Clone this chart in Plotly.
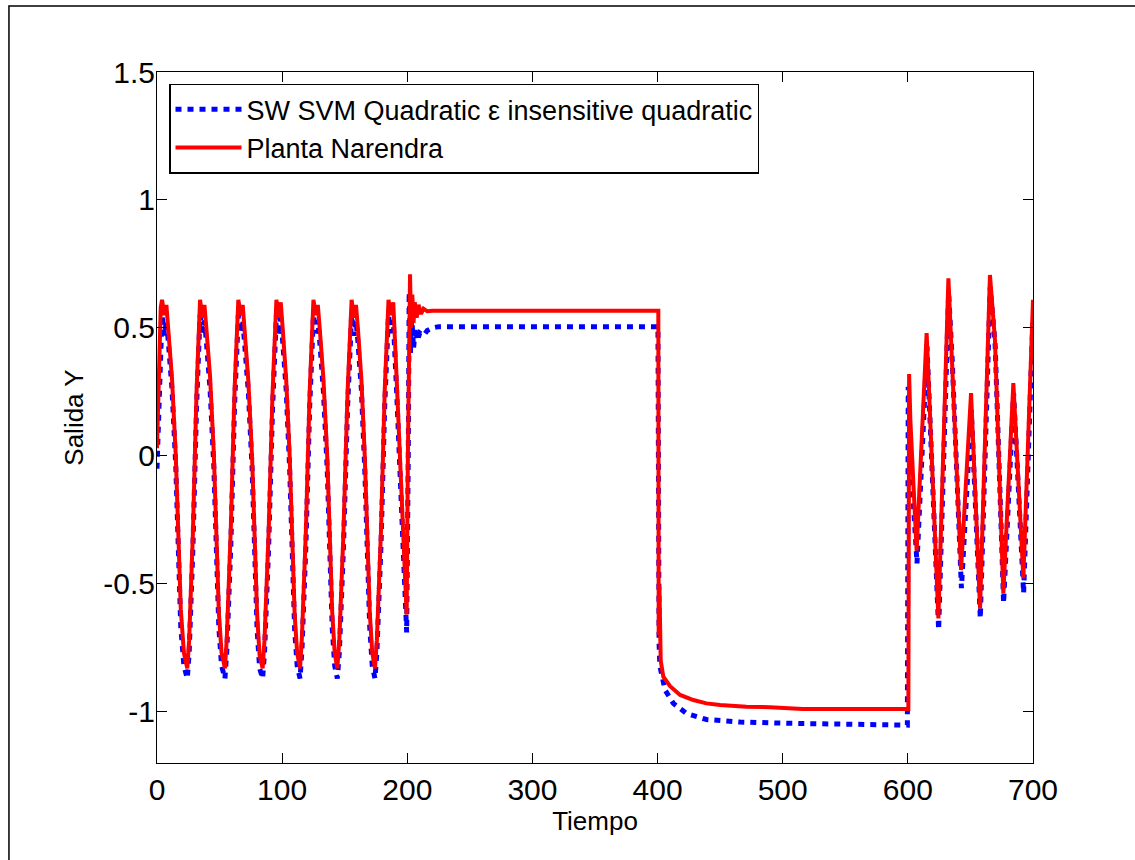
import plotly.graph_objects as go

# Tiempo y salida (tramo oscilante 0-200)
t_osc = [0, 1.5, 3, 4, 6, 7.5, 9, 12, 15, 17, 19, 21.5, 24.2,
         25.7, 28.7, 31.6, 34.4, 36.4, 37.9, 39.4, 42.4, 45.4, 47.4, 49.4, 51.6, 54.3,
         55.8, 59, 62, 65, 67, 68.5, 70, 73, 76, 78, 80, 82, 84.4,
         85.9, 89.2, 92.3, 95.4, 97.4, 98.9, 100.4, 103.2, 106, 108, 110, 112, 114.3,
         115.8, 119, 122, 125, 127, 128.5, 130, 133, 136, 138, 140, 142, 144.1,
         145.7, 149, 152.3, 155.5, 157.5, 159, 160.5, 163.3, 166, 168, 170, 172, 174.2,
         175.7, 179, 182, 185, 187, 188.8, 191.5, 194.5, 197.5, 199.5]
red_osc = [0.03, 0.38, 0.58, 0.61, 0.55, 0.59, 0.50, 0.30, 0.00, -0.30, -0.60, -0.77, -0.83,
           -0.72, -0.30, 0.25, 0.61, 0.54, 0.59, 0.50, 0.31, 0.01, -0.31, -0.61, -0.77, -0.83,
           -0.71, -0.28, 0.26, 0.61, 0.55, 0.59, 0.49, 0.29, -0.01, -0.32, -0.62, -0.78, -0.83,
           -0.72, -0.30, 0.24, 0.61, 0.54, 0.60, 0.50, 0.30, 0.00, -0.31, -0.62, -0.77, -0.83,
           -0.71, -0.29, 0.25, 0.61, 0.55, 0.59, 0.50, 0.30, 0.00, -0.31, -0.61, -0.77, -0.83,
           -0.72, -0.30, 0.25, 0.61, 0.54, 0.59, 0.50, 0.30, 0.00, -0.31, -0.61, -0.77, -0.83,
           -0.72, -0.29, 0.26, 0.61, 0.55, 0.60, 0.30, -0.05, -0.42, -0.62]
blue_osc = [-0.05, 0.25, 0.47, 0.55, 0.47, 0.53, 0.45, 0.26, -0.04, -0.36, -0.67, -0.82, -0.87,
            -0.77, -0.36, 0.19, 0.55, 0.47, 0.53, 0.45, 0.26, -0.04, -0.36, -0.67, -0.82, -0.87,
            -0.76, -0.35, 0.20, 0.55, 0.48, 0.53, 0.44, 0.25, -0.05, -0.37, -0.68, -0.83, -0.87,
            -0.77, -0.36, 0.18, 0.55, 0.47, 0.54, 0.45, 0.26, -0.05, -0.36, -0.68, -0.82, -0.87,
            -0.76, -0.35, 0.19, 0.55, 0.48, 0.53, 0.45, 0.25, -0.05, -0.36, -0.67, -0.82, -0.87,
            -0.77, -0.36, 0.19, 0.55, 0.47, 0.53, 0.45, 0.26, -0.05, -0.37, -0.67, -0.82, -0.87,
            -0.77, -0.35, 0.20, 0.55, 0.48, 0.53, 0.25, -0.10, -0.48, -0.69]

# tramo 200-600
red_hold_t = [200.5, 201.5, 202.2, 203, 204, 205, 206, 207.5, 209, 211, 213, 216, 220,
              400.6, 400.9, 401.5, 402.5, 404.6, 410, 418, 428.6, 439, 450, 471, 490, 516, 600.4]
red_hold = [0.0, 0.52, 0.71, 0.50, 0.63, 0.52, 0.60, 0.54, 0.59, 0.555, 0.575, 0.565, 0.567,
            0.567, -0.70, -0.51, -0.80, -0.863, -0.90, -0.934, -0.954, -0.967, -0.973, -0.98, -0.982, -0.989, -0.989]
blue_hold_t = [200.8, 201.5, 202.5, 203.5, 205, 206.5, 208, 210, 213, 216, 220, 225,
               400.3, 400.6, 401.2, 401.8, 406, 412.6, 423, 439, 466, 506, 546, 559, 599.6]
blue_hold = [0.0, 0.64, 0.40, 0.55, 0.42, 0.50, 0.45, 0.48, 0.47, 0.49, 0.50, 0.505,
             0.505, -0.67, -0.73, -0.82, -0.915, -0.967, -1.006, -1.03, -1.04, -1.045, -1.048, -1.052, -1.052]

# tramo 600-700
red_tail_t = [601, 602, 607, 615, 624.4, 632.4, 634.5, 642.5, 650.5, 657.7,
              665.6, 669.6, 676.3, 684.3, 692.3, 700]
red_tail = [0.32, 0.14, -0.37, 0.48, -0.635, 0.694, 0.45, -0.446, 0.245, -0.596,
            0.707, 0.453, -0.537, 0.284, -0.478, 0.61]
blue_tail_t = [600.3, 601.5, 607.3, 615.3, 624.6, 632.6, 635.5, 642.8, 650.7, 657.9,
               665.8, 669.8, 676.5, 684.5, 692.5, 700]
blue_tail = [0.27, 0.05, -0.42, 0.427, -0.68, 0.635, 0.37, -0.517, 0.18, -0.635,
             0.66, 0.43, -0.576, 0.245, -0.537, 0.544]

y_ticks = [-1, -0.5, 0, 0.5, 1, 1.5]
y_labels = ["-1", "-0.5", "0", "0.5", "1", "1.5"]
x_ticks = [0, 100, 200, 300, 400, 500, 600, 700]

FONT = "Liberation Sans, Arial, Helvetica, sans-serif"

fig = go.Figure()
fig.add_trace(go.Scatter(
    x=t_osc + blue_hold_t + blue_tail_t,
    y=blue_osc + blue_hold + blue_tail,
    mode="lines", name="SW SVM Quadratic \u03b5 insensitive quadratic",
    line=dict(color="#0000ff", width=5, dash="6px,6px")))
fig.add_trace(go.Scatter(
    x=t_osc + red_hold_t + red_tail_t,
    y=red_osc + red_hold + red_tail,
    mode="lines", name="Planta Narendra",
    line=dict(color="#ff0000", width=4)))

axis_common = dict(showline=True, linecolor="black", linewidth=1, mirror="ticks",
                   ticks="inside", ticklen=10, tickcolor="black", showgrid=False,
                   zeroline=False, tickfont=dict(size=30, color="black"))
fig.update_xaxes(range=[0, 700], tickvals=x_ticks,
                 title=dict(text="Tiempo", font=dict(size=26), standoff=6),
                 **axis_common)
fig.update_yaxes(range=[-1.2, 1.5], tickvals=y_ticks, ticktext=y_labels,
                 ticklabelstandoff=-5,
                 title=dict(text="Salida Y", font=dict(size=26), standoff=12),
                 **axis_common)

fig.update_layout(
    width=1135, height=860,
    margin=dict(l=157, r=102, t=72, b=97),
    paper_bgcolor="white", plot_bgcolor="white",
    font=dict(family=FONT, color="black"),
    legend=dict(x=0.0137, y=0.983, xanchor="left", yanchor="top",
                bgcolor="white", bordercolor="black", borderwidth=1.5,
                font=dict(size=27), itemwidth=66, tracegroupgap=0),
    shapes=[dict(type="rect", xref="paper", yref="paper",
                 x0=-0.169, y0=-0.2, x1=1.2, y1=1.0955,
                 line=dict(color="black", width=1.5), layer="below")],
)

# quitar el margen del body para que el grafico quede en 0,0
fig.write_html("out.html", config={"displayModeBar": False},
               post_script="document.body.style.margin='0';")
